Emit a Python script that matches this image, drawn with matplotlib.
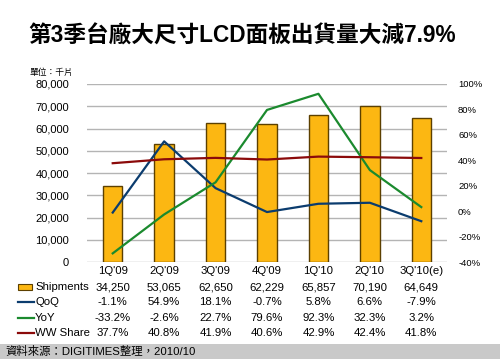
import matplotlib.pyplot as plt
from matplotlib.transforms import blended_transform_factory
from matplotlib.patches import Rectangle
from matplotlib.lines import Line2D
import numpy as np

plt.rcParams['font.family'] = ['Liberation Sans', 'Noto Sans CJK TC', 'DejaVu Sans']

# data
quarters = ["1Q'09", "2Q'09", "3Q'09", "4Q'09", "1Q'10", "2Q'10", "3Q'10(e)"]
shipments = [34250, 53065, 62650, 62229, 65857, 70190, 64649]
qoq = [-1.1, 54.9, 18.1, -0.7, 5.8, 6.6, -7.9]
yoy = [-33.2, -2.6, 22.7, 79.6, 92.3, 32.3, 3.2]
ww_share = [37.7, 40.8, 41.9, 40.6, 42.9, 42.4, 41.8]

gold = '#FCB712'
bar_edge = '#5C4000'
c_qoq = '#0B3C6E'
c_yoy = '#1B8A2E'
c_ww = '#8B0A0A'

fig = plt.figure(figsize=(5.0, 3.63), dpi=100)
ax = fig.add_axes([0.174, 0.2782, 0.72, 0.4904])
x = np.arange(len(quarters))

ax.bar(x, shipments, width=0.38, color=gold, edgecolor=bar_edge, linewidth=1.0, zorder=2)
ax.set_ylim(0, 80000)
ax.set_xlim(-0.5, len(quarters) - 0.5)
ax.set_yticks(np.arange(0, 80001, 10000))
ax.set_yticklabels([f'{v:,}' for v in range(0, 80001, 10000)], fontsize=8)
ax.yaxis.grid(True, color='#b4b4b4', linewidth=1.0, zorder=0)
ax.set_axisbelow(True)
ax.set_xticks([])
ax.tick_params(axis='y', length=0, pad=13)
for s in ax.spines.values():
    s.set_visible(False)

ax2 = ax.twinx()
ax2.plot(x, qoq, color=c_qoq, linewidth=1.6, zorder=3)
ax2.plot(x, yoy, color=c_yoy, linewidth=1.6, zorder=3)
ax2.plot(x, ww_share, color=c_ww, linewidth=1.6, zorder=3)
ax2.set_ylim(-40, 100)
ax2.set_yticks(np.arange(-40, 101, 20))
ax2.set_yticklabels([f'{v}%' for v in range(-40, 101, 20)], fontsize=6.8)
ax2.tick_params(axis='y', length=0, pad=8)
for s in ax2.spines.values():
    s.set_visible(False)

# title and unit
fig.text(0.056, 0.902, '第3季台廠大尺寸LCD面板出貨量大減7.9%', fontsize=16.3, fontweight='bold',
         family=['Liberation Sans', 'Noto Sans CJK TC'], va='center', ha='left')
fig.text(0.058, 0.80, '單位：千片', fontsize=6.3, va='center', ha='left',
         family=['Noto Sans CJK TC', 'Liberation Sans'])

# data table
tr = blended_transform_factory(ax.transData, fig.transFigure)
row_y = [1 - 287 / 363, 1 - 302 / 363, 1 - 318 / 363, 1 - 333 / 363]
for i, q in enumerate(quarters):
    ax.text(i, 1 - 271 / 363, q, transform=tr, ha='center', va='center', fontsize=8.2)
    ax.text(i, row_y[0], f'{shipments[i]:,}', transform=tr, ha='center', va='center', fontsize=8.2)
    ax.text(i, row_y[1], f'{qoq[i]}%', transform=tr, ha='center', va='center', fontsize=8.2)
    ax.text(i, row_y[2], f'{yoy[i]}%', transform=tr, ha='center', va='center', fontsize=8.2)
    ax.text(i, row_y[3], f'{ww_share[i]}%', transform=tr, ha='center', va='center', fontsize=8.2)

row_names = ['Shipments', 'QoQ', 'YoY', 'WW Share']
for name, yy in zip(row_names, row_y):
    fig.text(0.07, yy, name, ha='left', va='center', fontsize=8.2)
fig.patches.append(Rectangle((0.036, row_y[0] - 0.009), 0.028, 0.016, transform=fig.transFigure,
                             facecolor=gold, edgecolor=bar_edge, linewidth=0.8))
for c, yy in zip([c_qoq, c_yoy, c_ww], row_y[1:]):
    fig.lines.append(Line2D([0.036, 0.068], [yy, yy], transform=fig.transFigure, color=c, linewidth=1.6))

# footer band
fig.patches.append(Rectangle((0, 1 - 359 / 363), 1, 15 / 363, transform=fig.transFigure,
                             facecolor='#c9c9c9', edgecolor='none'))
fig.text(0.01, 1 - 351.5 / 363, '資料來源：DIGITIMES整理，2010/10', fontsize=8.2, ha='left', va='center',
         family=['Liberation Sans', 'Noto Sans CJK TC'])

fig.savefig('out.png', dpi=100)
